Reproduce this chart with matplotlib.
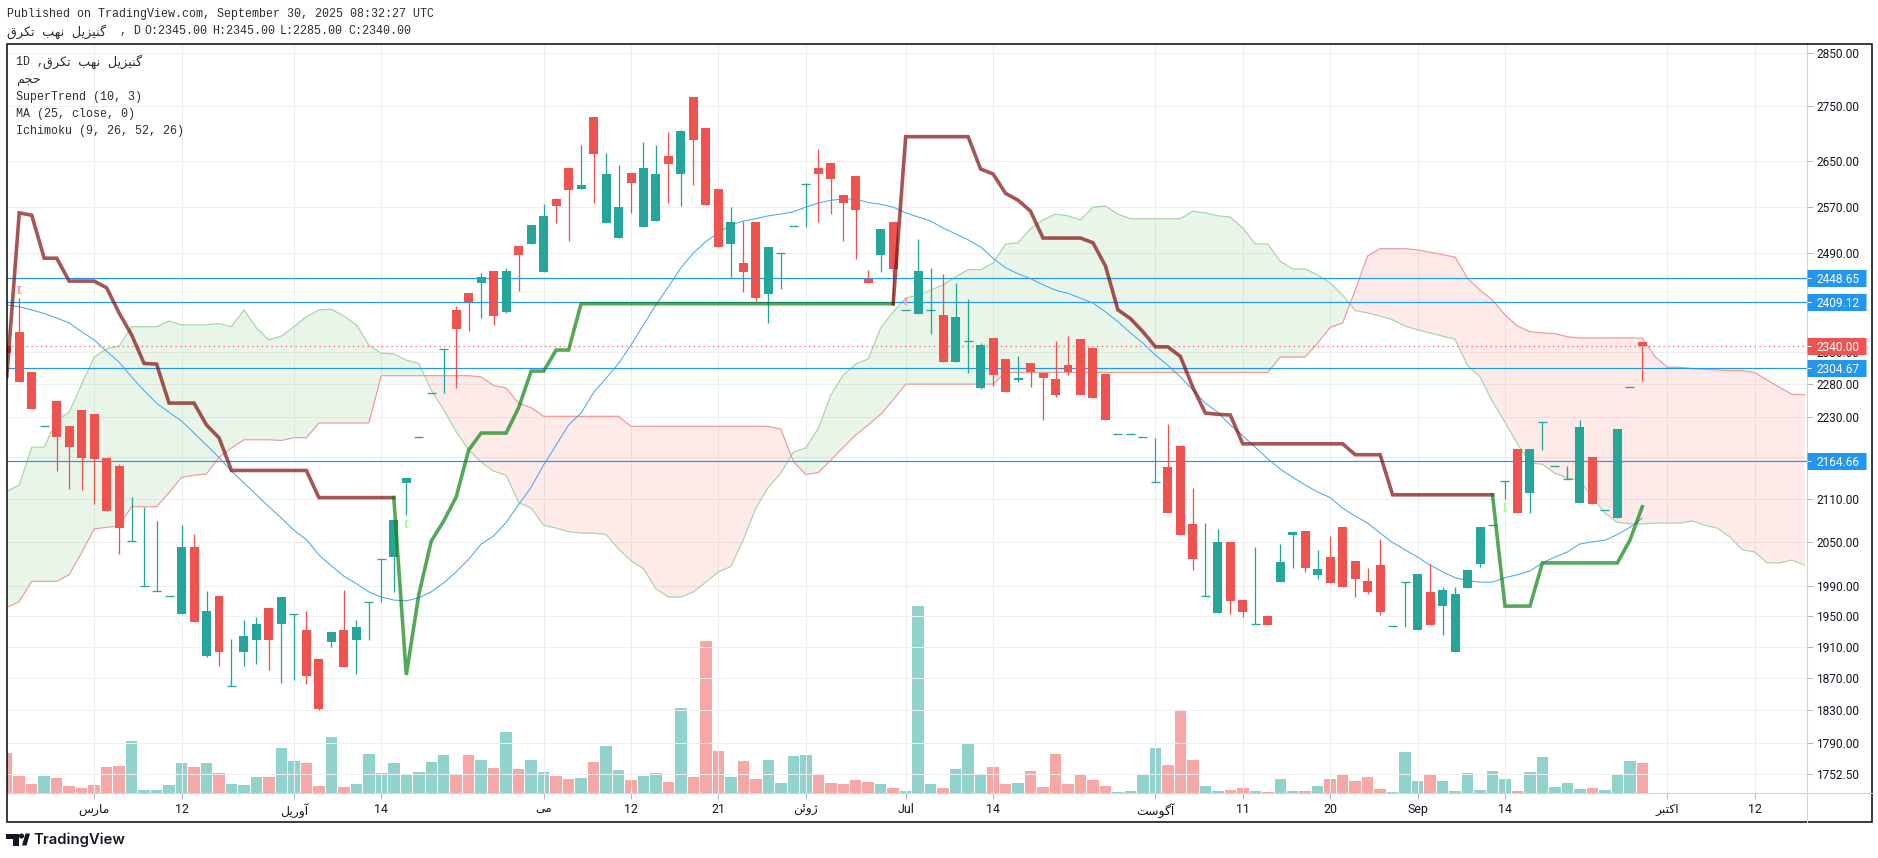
import matplotlib
matplotlib.use('Agg')
import matplotlib.pyplot as plt
from matplotlib.patches import Rectangle, Polygon, Circle
from matplotlib.ticker import FixedLocator, FixedFormatter, NullLocator

plt.rcParams['font.family'] = ['Roboto', 'DejaVu Sans']

# Daily candles, index = bar number
opens = [2340, 2362, 2298, 2216, 2254, 2216, 2241, 2234, 2169, 2157, 2051, 1990, 1983, 1977, 1952, 2043, 1898, 1977, 1860, 1903,
         1918, 1960, 1940, 1952, 1932, 1894, 1916, 1931, 1919, 1968, 2027, 2029, 2133, 2200, 2266, 2334, 2397, 2424, 2441, 2461,
         2394, 2503, 2506, 2459, 2583, 2638, 2600, 2730, 2542, 2516, 2629, 2534, 2545, 2659, 2627, 2767, 2710, 2600, 2506, 2474,
         2544, 2423, 2490, 2536, 2609, 2638, 2647, 2590, 2623, 2448, 2488, 2544, 2397, 2391, 2397, 2389, 2314, 2348, 2274, 2352,
         2319, 2286, 2312, 2297, 2288, 2309, 2350, 2336, 2295, 2204, 2204, 2200, 2134, 2156, 2187, 2075, 1977, 1954, 2050, 1971,
         1939, 1950, 1995, 2060, 2065, 2005, 2029, 2070, 2024, 1997, 2018, 1937, 1995, 1932, 1982, 1963, 1903, 1987, 2020, 2074,
         2136, 2182, 2119, 2223, 2157, 2138, 2105, 2170, 2094, 2083, 2276, 2345]
highs = [2340, 2416, 2298, 2216, 2256, 2216, 2241, 2234, 2169, 2160, 2113, 2099, 2079, 1977, 2073, 2061, 1983, 1977, 1920, 1945,
         1949, 1960, 1975, 1952, 1957, 1894, 1929, 1985, 1945, 1968, 2027, 2081, 2140, 2200, 2266, 2334, 2403, 2424, 2458, 2461,
         2466, 2503, 2538, 2574, 2584, 2638, 2679, 2730, 2665, 2643, 2629, 2684, 2679, 2702, 2706, 2767, 2710, 2600, 2569, 2545,
         2544, 2501, 2490, 2536, 2612, 2672, 2647, 2590, 2623, 2463, 2532, 2544, 2397, 2515, 2466, 2456, 2441, 2415, 2344, 2352,
         2319, 2323, 2312, 2297, 2347, 2355, 2350, 2336, 2295, 2204, 2204, 2200, 2199, 2219, 2187, 2126, 2076, 2068, 2050, 1971,
         2043, 1950, 2047, 2064, 2065, 2039, 2058, 2070, 2024, 2014, 2054, 1937, 1995, 2006, 2020, 1989, 1989, 2011, 2070, 2074,
         2136, 2182, 2182, 2223, 2157, 2157, 2226, 2170, 2094, 2212, 2276, 2345]
lows = [2329, 2283, 2242, 2216, 2150, 2125, 2123, 2103, 2093, 2033, 2051, 1990, 1983, 1977, 1952, 1942, 1897, 1885, 1860, 1885,
        1888, 1880, 1864, 1867, 1863, 1830, 1910, 1884, 1875, 1918, 1968, 1982, 2087, 2200, 2266, 2267, 2274, 2363, 2384, 2373,
        2392, 2428, 2506, 2459, 2542, 2511, 2600, 2577, 2542, 2516, 2559, 2534, 2545, 2576, 2571, 2607, 2572, 2501, 2451, 2426,
        2411, 2376, 2431, 2536, 2535, 2544, 2557, 2511, 2481, 2441, 2459, 2408, 2397, 2391, 2359, 2314, 2314, 2297, 2272, 2277,
        2268, 2284, 2275, 2226, 2260, 2294, 2264, 2259, 2226, 2204, 2204, 2200, 2134, 2090, 2060, 2011, 1977, 1954, 1953, 1949,
        1939, 1938, 1995, 2014, 2009, 1999, 1994, 1989, 1975, 1979, 1951, 1937, 1935, 1932, 1938, 1925, 1903, 1987, 2016, 2074,
        2110, 2090, 2090, 2181, 2157, 2138, 2105, 2103, 2094, 2083, 2276, 2285]
closes = [2329, 2283, 2242, 2216, 2200, 2185, 2169, 2168, 2093, 2069, 2051, 1990, 1983, 1977, 2043, 1942, 1957, 1903, 1860, 1924,
          1940, 1918, 1975, 1952, 1873, 1832, 1929, 1884, 1935, 1968, 2027, 2081, 2140, 2200, 2266, 2334, 2367, 2409, 2451, 2387,
          2461, 2488, 2538, 2554, 2571, 2598, 2607, 2663, 2627, 2569, 2611, 2638, 2627, 2645, 2704, 2688, 2572, 2501, 2544, 2459,
          2416, 2501, 2490, 2536, 2609, 2627, 2618, 2577, 2564, 2441, 2532, 2464, 2397, 2461, 2397, 2314, 2386, 2348, 2341, 2294,
          2268, 2289, 2298, 2289, 2264, 2298, 2264, 2259, 2226, 2204, 2204, 2200, 2134, 2090, 2060, 2026, 1977, 2050, 1970, 1955,
          1939, 1938, 2022, 2064, 2014, 2013, 1994, 1989, 1999, 1982, 1955, 1937, 1995, 2006, 1938, 1985, 1979, 2011, 2070, 2074,
          2136, 2090, 2182, 2223, 2157, 2138, 2215, 2103, 2094, 2212, 2276, 2340]
volumes = [40, 17, 9, 17, 15, 7, 5, 8, 26, 27, 52, 3, 3, 8, 30, 26, 30, 20, 9, 8,
           16, 16, 45, 32, 30, 7, 56, 6, 9, 39, 20, 30, 19, 21, 31, 38, 19, 38, 33, 25,
           61, 24, 33, 21, 17, 14, 15, 31, 47, 23, 13, 17, 20, 11, 85, 16, 152, 42, 16, 32,
           14, 33, 10, 37, 38, 18, 10, 9, 13, 11, 9, 5, 2, 187, 9, 5, 24, 49, 19, 26,
           9, 10, 22, 6, 39, 9, 19, 13, 7, 1, 2, 19, 45, 28, 82, 33, 7, 2, 3, 5,
           2, 1, 14, 2, 2, 7, 14, 18, 12, 16, 4, 1, 41, 12, 19, 12, 2, 20, 3, 22,
           14, 2, 21, 36, 6, 10, 4, 5, 3, 18, 32, 30]

supertrend = [2291, 2559, 2555, 2482, 2482, 2444, 2444, 2444, 2433, 2392, 2357, 2312, 2311, 2251, 2251, 2251, 2218, 2199, 2151, 2151,
              2151, 2151, 2151, 2151, 2151, 2112, 2112, 2112, 2112, 2112, 2112, 2112, 1874, 1978, 2051, 2079, 2113, 2181, 2206, 2206,
              2206, 2244, 2300, 2300, 2333, 2333, 2407, 2407, 2407, 2407, 2407, 2407, 2407, 2407, 2407, 2407, 2407, 2407, 2407, 2407,
              2407, 2407, 2407, 2407, 2407, 2407, 2407, 2407, 2407, 2407, 2407, 2407, 2694, 2694, 2694, 2694, 2694, 2694, 2636, 2627,
              2593, 2581, 2562, 2516, 2516, 2516, 2516, 2508, 2469, 2397, 2383, 2362, 2338, 2338, 2323, 2275, 2236, 2234, 2233, 2190,
              2190, 2190, 2190, 2190, 2190, 2190, 2190, 2190, 2174, 2174, 2174, 2116, 2116, 2116, 2116, 2116, 2116, 2116, 2116, 2116,
              1963, 1963, 1963, 2021, 2021, 2021, 2021, 2021, 2021, 2021, 2052, 2099]
st_flips = [31, 71, 119]

ma25 = [2405, 2402, 2397, 2391, 2384, 2376, 2362, 2349, 2331, 2314, 2291, 2270, 2251, 2237, 2224, 2206, 2188, 2170, 2150, 2133,
        2116, 2099, 2083, 2066, 2053, 2032, 2017, 2003, 1993, 1982, 1975, 1971, 1970, 1974, 1982, 1994, 2009, 2026, 2047, 2058,
        2077, 2102, 2127, 2159, 2188, 2218, 2236, 2267, 2289, 2312, 2341, 2373, 2405, 2435, 2466, 2491, 2510, 2525, 2538, 2545,
        2549, 2554, 2557, 2561, 2569, 2576, 2581, 2583, 2583, 2577, 2574, 2569, 2559, 2552, 2545, 2533, 2523, 2513, 2501, 2482,
        2466, 2456, 2448, 2438, 2429, 2424, 2416, 2408, 2394, 2378, 2360, 2344, 2325, 2309, 2291, 2271, 2251, 2237, 2218, 2202,
        2185, 2168, 2153, 2141, 2130, 2120, 2112, 2097, 2086, 2076, 2062, 2049, 2039, 2029, 2018, 2009, 2001, 1997, 1995, 1995,
        2001, 2005, 2010, 2021, 2029, 2036, 2047, 2050, 2052, 2060, 2070, 2083]

lead1 = [2121, 2130, 2185, 2185, 2225, 2237, 2280, 2322, 2335, 2339, 2370, 2370, 2370, 2379, 2373, 2373, 2373, 2375, 2370, 2397,
         2368, 2349, 2355, 2370, 2386, 2397, 2398, 2387, 2373, 2341, 2328, 2327, 2317, 2312, 2271, 2241, 2208, 2181, 2163, 2150,
         2144, 2105, 2097, 2073, 2069, 2064, 2062, 2062, 2060, 2040, 2024, 2013, 1986, 1975, 1975, 1982, 1995, 2009, 2016, 2053,
         2097, 2127, 2147, 2178, 2184, 2213, 2263, 2294, 2311, 2319, 2368, 2394, 2416, 2421, 2429, 2438, 2451, 2463, 2463, 2474,
         2506, 2508, 2532, 2547, 2557, 2554, 2547, 2569, 2571, 2557, 2549, 2549, 2549, 2549, 2549, 2562, 2559, 2554, 2552, 2533,
         2506, 2506, 2477, 2464, 2464, 2454, 2441, 2421, 2396, 2392, 2387, 2381, 2371, 2365, 2360, 2355, 2350, 2309, 2291, 2253,
         2222, 2190, 2162, 2160, 2147, 2140, 2137, 2112, 2090, 2077, 2075, 2075, 2076, 2076, 2076, 2079, 2073, 2069, 2057, 2039,
         2036, 2021, 2021, 2025, 2018]
lead2 = [1961, 1969, 1996, 1996, 1996, 2005, 2035, 2068, 2070, 2072, 2099, 2099, 2099, 2119, 2141, 2144, 2146, 2170, 2184, 2196,
         2196, 2196, 2195, 2199, 2199, 2221, 2221, 2221, 2221, 2221, 2293, 2293, 2293, 2293, 2293, 2293, 2293, 2293, 2291, 2278,
         2274, 2251, 2244, 2231, 2231, 2231, 2231, 2231, 2231, 2231, 2216, 2216, 2216, 2216, 2216, 2216, 2216, 2216, 2216, 2216,
         2216, 2216, 2212, 2164, 2145, 2148, 2166, 2185, 2203, 2218, 2234, 2256, 2280, 2280, 2280, 2280, 2280, 2280, 2280, 2280,
         2298, 2298, 2298, 2298, 2298, 2298, 2298, 2298, 2298, 2298, 2298, 2298, 2298, 2298, 2298, 2298, 2298, 2298, 2298, 2298,
         2298, 2298, 2322, 2322, 2322, 2344, 2369, 2376, 2429, 2486, 2498, 2498, 2498, 2496, 2492, 2488, 2484, 2449, 2429, 2413,
         2389, 2371, 2362, 2360, 2359, 2354, 2352, 2352, 2352, 2352, 2352, 2352, 2323, 2306, 2306, 2304, 2303, 2302, 2301, 2301,
         2298, 2286, 2275, 2264, 2264]

h_levels = [2448.65, 2409.12, 2304.67, 2164.66]
last_price = 2340.00

# small faint markers
mark_idx = [1, 32, 72, 120]
mark_hi = [2436, 2081, 2416, 2105]
mark_lo = [2425, 2070, 2406, 2093]
mark_col = ['#ff9d9d', '#a5ffa5', '#ff9d9d', '#a5ffa5']

# 2410 and 2170 have a grid line, their labels sit fully under the blue boxes
price_ticks = [1752.5, 1790, 1830, 1870, 1910, 1950, 1990, 2050, 2110, 2170, 2230, 2280, 2330, 2410, 2490, 2570, 2650, 2750, 2850]
hidden_labels = [2170, 2410]
time_ticks = [7, 14, 23, 30, 43, 50, 57, 64, 72, 79, 92, 99, 106, 113, 120, 133, 140]
# Persian words in shaped presentation forms, visual order (matplotlib does no shaping)
time_labels = ['ﺱﺭﺎﻣ', '12', 'ﻞﯾﺭﻭﺁ', '14', 'ﯽﻣ', '12', '21', 'ﻦﺋﻭﮊ', 'Jul', '14', 'ﺖﺳﻮﮔﺁ', '11', '20', 'Sep', '14', 'ﺮﺒﺘﮐﺍ', '12']
name_fa = 'ﻕﺮﮑﺗ ﺐﻬﻧ ﻞﯾﺰﯿﻨﮔ'
volume_fa = 'ﻢﺠﺣ'

TEAL = '#26a69a'
RED = '#ef5350'
BLUE = '#2196f3'
W, H = 1878, 858
PX = 72 / 100  # one pixel in points

fig = plt.figure(figsize=(W / 100, H / 100), dpi=100, facecolor='white')
rect = [6.5 / W, 1 - 793.3 / H, (1807 - 6.5) / W, (793.3 - 43.5) / H]
ax = fig.add_axes(rect)
ax.patch.set_visible(False)
ax.set_zorder(2)
axv = fig.add_axes(rect)
axv.set_zorder(1)
axv.axis('off')

ax.set_yscale('log')
ax.set_ylim(1730.2, 2868.7)
ax.set_xlim(-0.02, 144.19)
axv.set_xlim(-0.02, 144.19)
axv.set_ylim(0, 749.8)

for i in range(len(volumes)):
    col = RED if closes[i] < opens[i] else TEAL
    axv.bar(i, volumes[i], width=0.92, color=col, alpha=0.5, linewidth=0)

# grid
ax.yaxis.set_major_locator(FixedLocator(price_ticks))
ax.yaxis.set_major_formatter(FixedFormatter(['' if t in hidden_labels else '%.2f' % t for t in price_ticks]))
ax.yaxis.set_minor_locator(NullLocator())
ax.xaxis.set_major_locator(FixedLocator(time_ticks))
ax.xaxis.set_major_formatter(FixedFormatter(time_labels))
ax.yaxis.tick_right()
ax.grid(True, color='#eeeeee', lw=PX, zorder=0)
ax.set_axisbelow(True)
ax.tick_params(axis='y', which='major', length=4 * PX * 1.4, width=PX, color='#b2b5be',
               labelsize=8.6, labelcolor='#131722', pad=2.6)
ax.tick_params(axis='x', which='major', length=4 * PX * 1.4, width=PX, color='#b2b5be',
               labelsize=8.9, labelcolor='#131722', pad=3)
for s in ['top', 'left']:
    ax.spines[s].set_visible(False)
ax.spines['right'].set_color('#d1d4dc')
ax.spines['bottom'].set_color('#d1d4dc')

# cloud
xc = list(range(len(lead1)))
above = [a >= b for a, b in zip(lead1, lead2)]
below = [a <= b for a, b in zip(lead1, lead2)]
ax.fill_between(xc, lead1, lead2, where=above, interpolate=True, color='#4caf50', alpha=0.12, lw=0, zorder=1)
ax.fill_between(xc, lead1, lead2, where=below, interpolate=True, color='#ef5350', alpha=0.12, lw=0, zorder=1)
ax.plot(xc, lead1, color='#a5d6a7', lw=1.2 * PX, zorder=1.5)
ax.plot(xc, lead2, color='#ef9a9a', lw=1.2 * PX, zorder=1.5)

for lv in h_levels:
    ax.axhline(lv, color=BLUE, lw=1.2 * PX, zorder=2)
ax.axhline(last_price, color=RED, lw=1.2 * PX, ls=(0, (1, 3)), zorder=2)

ax.plot(range(len(ma25)), ma25, color='#42a5f5', lw=PX, zorder=2.5)

# candles
for i in range(len(opens)):
    col = RED if closes[i] < opens[i] else TEAL
    ax.vlines(i, lows[i], highs[i], color=col, lw=1.3 * PX, zorder=3)
    if opens[i] == closes[i]:
        ax.hlines(opens[i], i - 0.36, i + 0.36, color=col, lw=1.3 * PX, zorder=3)
    else:
        ax.bar(i, abs(closes[i] - opens[i]), bottom=min(opens[i], closes[i]), width=0.72, color=col, linewidth=0, zorder=3)

for i, hi, lo, c in zip(mark_idx, mark_hi, mark_lo, mark_col):
    ax.vlines(i, lo, hi, color=c, lw=2 * PX, zorder=3)
    ax.hlines([lo, hi], i - 0.14, i + 0.14, color=c, lw=1.2 * PX, zorder=3)

# supertrend, colour changes at the flip bars
bounds = [0] + st_flips + [len(supertrend) - 1]
st_cols = ['#800c0c', '#0d8413', '#800c0c', '#0d8413']
for k in range(len(bounds) - 1):
    xs = list(range(bounds[k], bounds[k + 1] + 1))
    ax.plot(xs, supertrend[bounds[k]:bounds[k + 1] + 1], color=st_cols[k], alpha=0.7, lw=3.6 * PX,
            solid_joinstyle='miter', zorder=4)

# price boxes on the axis
trans = ax.get_yaxis_transform()
axw = 1807 - 6.5
for lv, c in [(lv, BLUE) for lv in h_levels] + [(last_price, RED)]:
    ax.plot([1, 1 + 59 / axw], [lv, lv], transform=trans, color=c, lw=17 * PX, solid_capstyle='butt',
            clip_on=False, zorder=6)
    ax.plot([1, 1 + 4 / axw], [lv, lv], transform=trans, color='white', lw=PX, solid_capstyle='butt',
            clip_on=False, zorder=7)
    ax.text(1 + 10 / axw, lv, '%.2f' % lv, transform=trans, color='white', fontsize=8.6, va='center_baseline',
            ha='left', clip_on=False, zorder=7)

# overlay: frame, header, legend, logo
ov = fig.add_axes([0, 0, 1, 1])
ov.set_zorder(5)
ov.set_xlim(0, W)
ov.set_ylim(H, 0)
ov.axis('off')
ov.add_patch(Rectangle((6.5, 43.5), 1865.2, 778.2, fill=False, ec='black', lw=1.5 * PX))
ov.plot([1807, 1807], [793.3, 821.7], color='#d1d4dc', lw=PX)
ov.plot([1807, 1871.7], [793.3, 793.3], color='#d1d4dc', lw=PX)

MONO = ['Liberation Mono', 'DejaVu Sans']
ov.text(7, 14.5, 'Published on TradingView.com, September 30, 2025 08:32:27 UTC', family=MONO, fontsize=8.4,
        color='#2a2e39', va='center')
ov.text(7, 31.5, name_fa, family=MONO, fontsize=9.2, color='#2a2e39', va='center')
ov.text(120, 31.5, ', D', family=MONO, fontsize=8.4, color='#2a2e39', va='center')
for x, s in [(144, 'O:2345.00'), (212, 'H:2345.00'), (280, 'L:2285.00'), (348, 'C:2340.00')]:
    ov.text(x, 31.5, s, family=MONO, fontsize=8.4, color='#2a2e39', va='center')

ov.text(16, 62, '1D ,', family=MONO, fontsize=8.4, color='#2a2e39', va='center')
ov.text(43, 62, name_fa, family=MONO, fontsize=9.2, color='#2a2e39', va='center')
ov.text(16, 80, volume_fa, family=MONO, fontsize=9.2, color='#2a2e39', va='center')
ov.text(16, 97, 'SuperTrend (10, 3)', family=MONO, fontsize=8.4, color='#2a2e39', va='center')
ov.text(16, 114, 'MA (25, close, 0)', family=MONO, fontsize=8.4, color='#2a2e39', va='center')
ov.text(16, 131, 'Ichimoku (9, 26, 52, 26)', family=MONO, fontsize=8.4, color='#2a2e39', va='center')

# logo
LOGO = '#131722'
ov.add_patch(Polygon([(6, 833.5), (18.5, 833.5), (18.5, 845.5), (12.5, 845.5), (12.5, 838.5), (6, 838.5)], fc=LOGO, ec='none'))
ov.add_patch(Circle((21.5, 836), 2.6, fc=LOGO, ec='none'))
ov.add_patch(Polygon([(22, 845.5), (25.5, 833.5), (30, 833.5), (26.5, 845.5)], fc=LOGO, ec='none'))
ov.text(33, 839.5, 'TradingView', family=['Inter', 'DejaVu Sans'], fontsize=10.7, fontweight='semibold',
        color=LOGO, va='center')

fig.savefig('out.png', dpi=100, facecolor='white')
